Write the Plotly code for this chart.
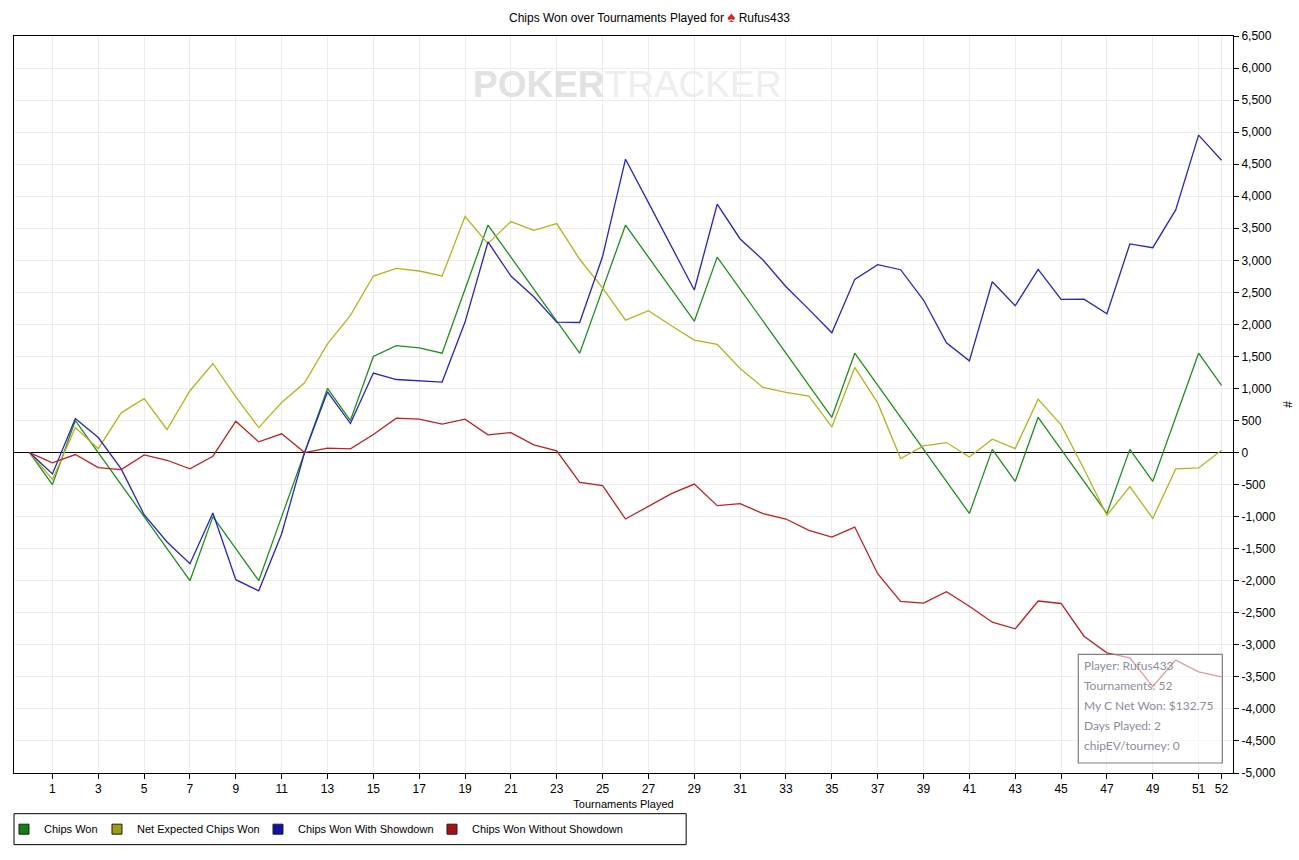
import plotly.graph_objects as go

# ---------------- data ----------------
tournaments = list(range(53))

chips_won = [0, -500, 500, 0, -500, -1000, -1500, -2000, -1000, -1500,
             -2000, -1000, 0, 1000, 500, 1500, 1670, 1635, 1550, 2550,
             3550, 3050, 2550, 2050, 1550, 2550, 3550, 3050, 2550, 2050,
             3050, 2550, 2050, 1550, 1050, 550, 1550, 1050, 550, 50,
             -450, -950, 50, -450, 550, 50, -450, -950, 50, -450,
             550, 1550, 1050]

net_expected = [0, -420, 390, 60, 620, 840, 360, 965, 1390, 869,
                390, 780, 1090, 1695, 2140, 2755, 2875, 2833, 2755, 3682,
                3260, 3604, 3469, 3573, 3016, 2570, 2067, 2213, 1978, 1755,
                1688, 1313, 1016, 938, 880, 400, 1328, 775, -94, 103,
                156, -69, 208, 62, 833, 431, -256, -980, -531, -1027,
                -256, -240, 36]

won_showdown = [0, -333, 530, 235, -255, -970, -1396, -1734, -943, -1984,
                -2156, -1266, 0, 948, 453, 1240, 1140, 1115, 1100, 2036,
                3286, 2755, 2432, 2036, 2030, 3060, 4578, 3900, 3220, 2536,
                3875, 3333, 3005, 2588, 2234, 1869, 2703, 2932, 2853, 2380,
                1713, 1431, 2666, 2291, 2859, 2390, 2395, 2166, 3255, 3197,
                3786, 4953, 4562]

won_no_showdown = [0, -161, -31, -234, -266, -36, -120, -255, -57, 489,
                   167, 292, 0, 68, 57, 281, 536, 521, 443, 521,
                   276, 312, 120, 26, -464, -516, -1037, -839, -641, -491,
                   -828, -797, -953, -1037, -1214, -1318, -1162, -1891, -2323, -2350,
                   -2172, -2397, -2647, -2750, -2317, -2355, -2865, -3125, -3203, -3651,
                   -3239, -3422, -3500]

series_names = ["Chips Won", "Net Expected Chips Won",
                "Chips Won With Showdown", "Chips Won Without Showdown"]
line_colors = ["#1f8e1f", "#b3b322", "#2626b8", "#b82323"]
legend_colors = ["#138013", "#9d9d14", "#1111a6", "#a61111"]
legend_widths = [48, 116, 129, 170]

x_tick_vals = list(range(1, 52, 2)) + [52]
x_tick_text = [str(v) for v in x_tick_vals]
y_tick_vals = list(range(-5000, 6501, 500))
y_tick_text = [f"{v:,}" for v in y_tick_vals]

info_lines = ["Player: Rufus433", "Tournaments: 52", "My C Net Won: $132.75",
              "Days Played: 2", "chipEV/tourney: 0"]

title_text = "Chips Won over Tournaments Played for "
player_name = "Rufus433"

# ---------------- figure ----------------
SANS = "Liberation Sans, Arial, sans-serif"
PLOT_W = 1218.7   # plot area width in px
PLOT_H = 737.3    # plot area height in px
L0, B0 = 14, 773.3

fig = go.Figure()
all_series = [chips_won, net_expected, won_showdown, won_no_showdown]
for name, ys, lc in zip(series_names, all_series, line_colors):
    fig.add_trace(go.Scatter(
        x=tournaments, y=ys, mode="lines", name=name,
        line=dict(color=lc, width=1.3), showlegend=False, legendgroup=name,
        hovertemplate="%{x}: %{y:,}<extra>" + name + "</extra>"))
for name, gc, lw in zip(series_names, legend_colors, legend_widths):
    fig.add_trace(go.Scatter(
        x=[None], y=[None], mode="markers", name=name, legendgroup=name,
        legendwidth=lw,
        marker=dict(symbol="square", size=10, color=gc,
                    line=dict(color="#202020", width=1))))

fig.update_layout(
    width=1299, height=860,
    margin=dict(l=14, r=66, t=36, b=87, autoexpand=False),
    paper_bgcolor="white", plot_bgcolor="white",
    font=dict(family=SANS, size=12, color="#000000"),
    title=dict(
        text=title_text + "<span style='color:#d42a1e;font-size:15px'>♠</span> " + player_name,
        x=0.5, xref="container", xanchor="center",
        y=1 - 18 / 860, yref="container", yanchor="middle",
        font=dict(family=SANS, size=12, color="#000")),
    showlegend=True,
    legend=dict(
        orientation="h", x=-10 / PLOT_W, xanchor="left",
        y=(B0 - 815) / PLOT_H, yanchor="top",
        bgcolor="rgba(0,0,0,0)", borderwidth=0,
        font=dict(family=SANS, size=11, color="#000"),
        itemclick=False, itemdoubleclick=False),
    xaxis=dict(
        range=[-0.676, 52.5], tickmode="array",
        tickvals=x_tick_vals, ticktext=x_tick_text,
        showgrid=True, gridcolor="#ececec", gridwidth=1,
        zeroline=False, showline=True, linecolor="#000", linewidth=1,
        mirror=True, ticks="outside", ticklen=5, tickcolor="#000",
        tickfont=dict(family=SANS, size=12), automargin=False,
        title=dict(text="Tournaments Played", standoff=4,
                   font=dict(family=SANS, size=11))),
    yaxis=dict(
        range=[-5000, 6500], side="right", tickmode="array",
        tickvals=y_tick_vals, ticktext=y_tick_text,
        showgrid=True, gridcolor="#ececec", gridwidth=1,
        zeroline=True, zerolinecolor="#000", zerolinewidth=1,
        showline=True, linecolor="#000", linewidth=1, mirror=True,
        ticks="outside", ticklen=5, tickcolor="#000",
        tickfont=dict(family=SANS, size=12), automargin=False,
        title=dict(text="#", standoff=8, font=dict(family=SANS, size=12))),
)

# legend frame
fig.add_shape(type="rect", xref="paper", yref="paper",
              x0=0.0, x1=(686 - L0) / PLOT_W,
              y0=(B0 - 845) / PLOT_H, y1=(B0 - 814) / PLOT_H,
              line=dict(color="#000", width=1), fillcolor="rgba(0,0,0,0)")

# watermark
fig.add_annotation(
    xref="paper", yref="paper", x=(627 - L0) / PLOT_W, y=(B0 - 85) / PLOT_H,
    xanchor="center", yanchor="middle",
    text="<b><span style='color:#e2e2e2'>POKER</span></b><span style='color:#eeeeee'>TRACKER</span>",
    showarrow=False, font=dict(family=SANS, size=37))

# info box
fig.add_shape(type="rect", xref="paper", yref="paper", layer="above",
              x0=(1078 - L0) / PLOT_W, x1=(1222 - L0) / PLOT_W,
              y0=(B0 - 763.3) / PLOT_H, y1=(B0 - 654.7) / PLOT_H,
              line=dict(color="#808080", width=1.2),
              fillcolor="rgba(255,255,255,0.55)")
for i, line_txt in enumerate(info_lines):
    ypix = 666 + 20 * i
    fig.add_annotation(
        xref="paper", yref="paper", x=(1082 - L0) / PLOT_W, y=(B0 - ypix) / PLOT_H,
        xanchor="left", yanchor="middle", text=line_txt, showarrow=False,
        font=dict(family="Lato, Noto Sans, sans-serif", size=12, color="#8c8c9a"))

fig.write_html("out.html", config={"displayModeBar": False},
               post_script="document.body.style.margin='0px';")
